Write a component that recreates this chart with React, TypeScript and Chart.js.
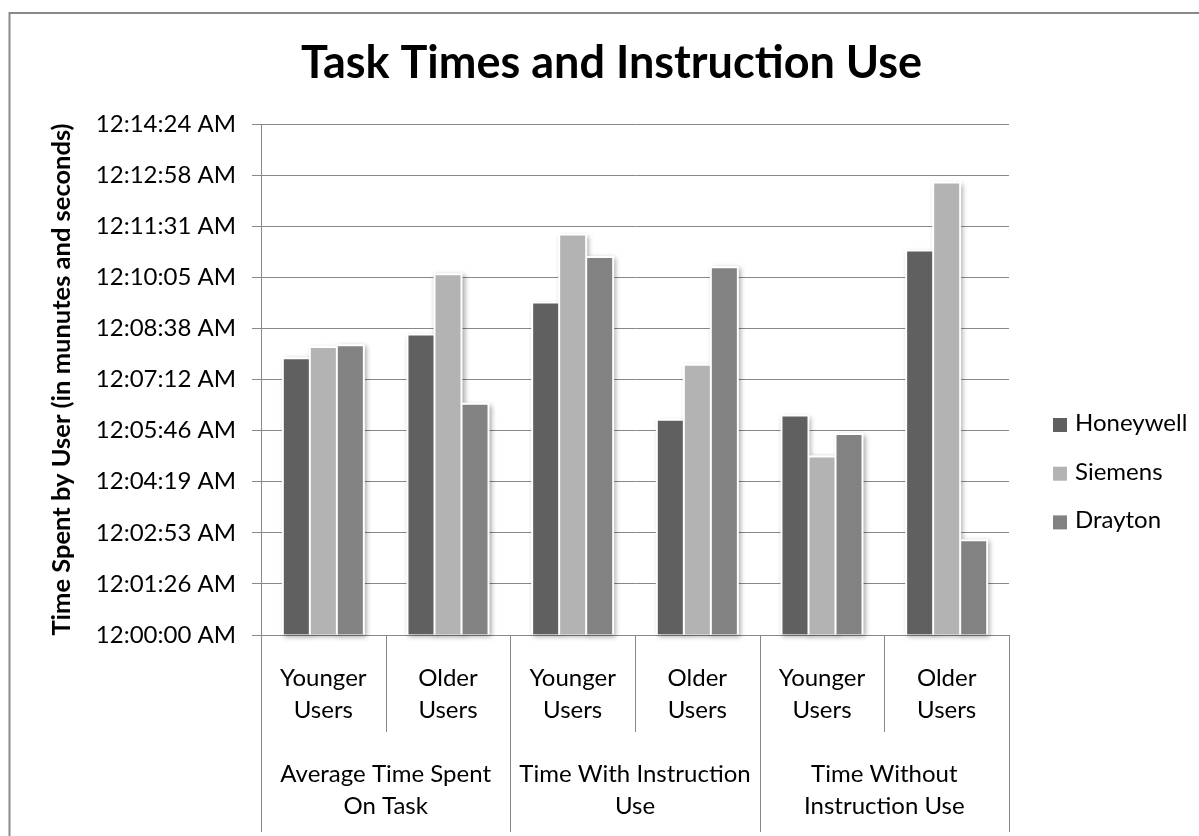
import React, { useEffect, useRef } from 'react';
import { Chart, registerables } from 'chart.js';

Chart.register(...registerables);

// ---- data ----
const subCategories: string[][] = [
  ['Younger', 'Users'], ['Older', 'Users'],
  ['Younger', 'Users'], ['Older', 'Users'],
  ['Younger', 'Users'], ['Older', 'Users'],
];
const groupLabels: string[][] = [
  ['Average Time Spent', 'On Task'],
  ['Time With Instruction', 'Use'],
  ['Time Without', 'Instruction Use'],
];
const seriesNames = ['Honeywell', 'Siemens', 'Drayton'];
// values in seconds
const honeywell = [468, 508, 562, 364, 371, 650];
const siemens = [487, 610, 677, 457, 302, 765];
const drayton = [490, 391, 639, 622, 340, 160];
const yTickLabels = [
  '12:00:00 AM', '12:01:26 AM', '12:02:53 AM', '12:04:19 AM', '12:05:46 AM', '12:07:12 AM',
  '12:08:38 AM', '12:10:05 AM', '12:11:31 AM', '12:12:58 AM', '12:14:24 AM',
];
const yMax = 864;
const yStep = 86.4;
const seriesColors = ['#606060', '#b3b3b3', '#828282'];

const titleText = 'Task Times and Instruction Use';
const yTitleText = 'Time Spent by User (in munutes and seconds)';

const FONT = 'Lato';
const LINE = '#888888';

const framePlugin = {
  id: 'frame',
  beforeDraw(chart: any) {
    const ctx = chart.ctx;
    ctx.save();
    ctx.fillStyle = '#ffffff';
    ctx.fillRect(0, 0, chart.width, chart.height);
    ctx.strokeStyle = '#8a8a8a';
    ctx.lineWidth = 2;
    ctx.strokeRect(9.5, 13, chart.width + 20, chart.height + 20);
    ctx.restore();
  },
};

const shadowPlugin = {
  id: 'barShadow',
  beforeDatasetsDraw(chart: any) {
    const ctx = chart.ctx;
    chart.data.datasets.forEach((_: any, di: number) => {
      const meta = chart.getDatasetMeta(di);
      meta.data.forEach((bar: any) => {
        const { x, y, base, width } = bar.getProps(['x', 'y', 'base', 'width'], true);
        ctx.save();
        ctx.shadowColor = 'rgba(0,0,0,0.35)';
        ctx.shadowBlur = 5;
        ctx.shadowOffsetX = 2;
        ctx.shadowOffsetY = 2;
        ctx.fillStyle = '#ffffff';
        ctx.fillRect(x - width / 2 - 1, y - 1, width + 2, base - y + 1);
        ctx.restore();
      });
    });
  },
};

const dividerPlugin = {
  id: 'dividers',
  afterDraw(chart: any) {
    const ctx = chart.ctx;
    const xs = chart.scales.x;
    const x2 = chart.scales.x2;
    const n = subCategories.length;
    const step = xs.width / n;
    ctx.save();
    ctx.strokeStyle = LINE;
    ctx.lineWidth = 1;
    for (let i = 0; i <= n; i++) {
      const px = Math.round(xs.left + i * step) + 0.5;
      const end = i % 2 === 0 ? x2.bottom : xs.bottom - 13;
      ctx.beginPath();
      ctx.moveTo(px, xs.top);
      ctx.lineTo(px, end);
      ctx.stroke();
    }
    ctx.restore();
  },
};

const legendPlugin = {
  id: 'sideLegend',
  afterDraw(chart: any) {
    const ctx = chart.ctx;
    const x0 = chart.chartArea.right + 44;
    ctx.save();
    ctx.font = `24px ${FONT}`;
    ctx.textBaseline = 'alphabetic';
    ctx.textAlign = 'left';
    chart.data.datasets.forEach((ds: any, i: number) => {
      const base = 431 + i * 48.7;
      ctx.fillStyle = ds.backgroundColor;
      ctx.fillRect(x0, base - 13, 14, 14);
      ctx.fillStyle = '#000000';
      ctx.fillText(ds.label, x0 + 22, base);
    });
    ctx.restore();
  },
};

export default function App() {
  const ref = useRef<HTMLCanvasElement | null>(null);

  useEffect(() => {
    document.body.style.margin = '0';
    const canvas = ref.current;
    if (!canvas) return;
    Chart.defaults.font.family = FONT;
    Chart.defaults.color = '#000000';
    const chart = new Chart(canvas, {
      type: 'bar',
      data: {
        labels: subCategories,
        datasets: [honeywell, siemens, drayton].map((d, i) => ({
          label: seriesNames[i],
          data: d,
          backgroundColor: seriesColors[i],
          borderColor: '#ffffff',
          borderWidth: 1,
          categoryPercentage: 0.65,
          barPercentage: 1.0,
        })),
      },
      options: {
        responsive: false,
        animation: false,
        devicePixelRatio: 1,
        layout: { padding: { left: 24, right: 0, top: 0, bottom: 4 } },
        plugins: {
          legend: { display: false },
          tooltip: { enabled: false },
          title: {
            display: true,
            text: titleText,
            color: '#000000',
            font: { family: FONT, size: 45, weight: 'bold' },
            padding: { top: 36, bottom: 34 },
          },
        },
        scales: {
          x: {
            type: 'category',
            offset: true,
            weight: 0,
            grid: { display: false, drawTicks: false },
            border: { display: true, color: LINE, width: 1 },
            ticks: {
              font: { family: FONT, size: 24, lineHeight: 1.31 },
              color: '#000000',
              padding: 28,
              maxRotation: 0,
              autoSkip: false,
            },
            afterFit(s: any) { s.height = 110; },
          },
          x2: {
            type: 'category',
            labels: groupLabels as any,
            offset: true,
            position: 'bottom',
            weight: 1,
            grid: { display: false, drawTicks: false },
            border: { display: false },
            ticks: {
              font: { family: FONT, size: 24, lineHeight: 1.31 },
              color: '#000000',
              padding: 14,
              maxRotation: 0,
              autoSkip: false,
            },
            afterFit(s: any) { s.height = 87; },
          },
          y: {
            type: 'linear',
            min: 0,
            max: yMax,
            grid: { color: LINE, lineWidth: 1, tickLength: 9, drawTicks: true },
            border: { display: true, color: LINE, width: 1 },
            ticks: {
              stepSize: yStep,
              font: { family: FONT, size: 24 },
              color: '#000000',
              padding: 16,
              callback: (_v: any, i: number) => yTickLabels[i] ?? '',
            },
            title: {
              display: true,
              text: yTitleText,
              color: '#000000',
              font: { family: FONT, size: 25.5, weight: 'bold' },
              padding: { top: 22, bottom: 0 },
            },
            afterFit(s: any) { s.width = 237; },
          },
          yR: {
            type: 'linear',
            position: 'right',
            display: true,
            grid: { display: false },
            border: { display: false },
            ticks: { display: false },
            afterFit(s: any) { s.width = 190; },
          },
        },
      },
      plugins: [framePlugin, shadowPlugin, dividerPlugin, legendPlugin],
    } as any);
    return () => chart.destroy();
  }, []);

  return (
    <div style={{ position: 'absolute', left: 0, top: 0, width: 1199, height: 836 }}>
      <canvas ref={ref} width={1199} height={836} style={{ width: 1199, height: 836 }} />
    </div>
  );
}
